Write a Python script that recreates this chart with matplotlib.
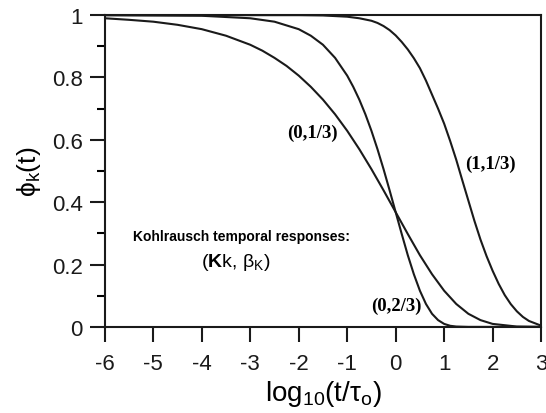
import numpy as np
import matplotlib
matplotlib.use('Agg')
import matplotlib.pyplot as plt

plt.rcParams['font.family'] = ['Liberation Sans', 'DejaVu Sans']
plt.rcParams['mathtext.fontset'] = 'custom'
plt.rcParams['mathtext.rm'] = 'Liberation Sans'
plt.rcParams['mathtext.it'] = 'Liberation Sans:italic'
plt.rcParams['mathtext.bf'] = 'Liberation Sans:bold'
plt.rcParams['axes.unicode_minus'] = False

# Kohlrausch responses: (K, beta) labels
x_a = [-6, -5.5, -5, -4.5, -4, -3.5, -3, -2.75, -2.5, -2.25, -2, -1.75, -1.5, -1.25, -1,
       -0.75, -0.5, -0.25, 0, 0.25, 0.5, 0.75, 1, 1.25, 1.5, 1.75, 2, 2.5, 3]
phi_a = [0.990, 0.985, 0.979, 0.969, 0.955, 0.934, 0.905, 0.886, 0.863, 0.837, 0.806, 0.770,
         0.729, 0.682, 0.629, 0.570, 0.506, 0.438, 0.368, 0.298, 0.230, 0.169, 0.116, 0.0735,
         0.042, 0.0217, 0.0096, 0.0011, 0.0]

x_b = [-6, -4, -3, -2.5, -2, -1.75, -1.5, -1.25, -1, -0.875, -0.75, -0.625, -0.5, -0.375,
       -0.25, -0.125, 0, 0.125, 0.25, 0.375, 0.5, 0.625, 0.75, 0.875, 1, 1.125, 1.25, 1.5, 3]
phi_b = [1.0, 0.998, 0.990, 0.979, 0.955, 0.934, 0.905, 0.863, 0.806, 0.770, 0.729, 0.682,
         0.629, 0.570, 0.506, 0.438, 0.368, 0.298, 0.230, 0.169, 0.116, 0.0735, 0.042, 0.0217,
         0.0096, 0.0035, 0.0011, 0.0, 0.0]

x_c = [-6, -2, -1.5, -1, -0.75, -0.5, -0.375, -0.25, -0.125, 0, 0.125, 0.25, 0.375, 0.5,
       0.625, 0.75, 0.875, 1, 1.125, 1.25, 1.375, 1.5, 1.625, 1.75, 1.875, 2, 2.125, 2.25,
       2.375, 2.5, 2.625, 2.75, 3]
phi_c = [1.0, 1.0, 0.999, 0.995, 0.990, 0.982, 0.975, 0.965, 0.952, 0.935, 0.914, 0.890,
         0.862, 0.830, 0.790, 0.745, 0.700, 0.652, 0.596, 0.536, 0.470, 0.405, 0.340, 0.280,
         0.227, 0.180, 0.138, 0.102, 0.073, 0.050, 0.032, 0.019, 0.004]

fig = plt.figure(figsize=(5.46, 4.14), dpi=100)
ax = fig.add_axes([0.192, 0.208, 0.799, 0.753])

for xs, ys in [(x_a, phi_a), (x_b, phi_b), (x_c, phi_c)]:
    ax.plot(xs, ys, color='#1a1a1a', lw=1.5, solid_joinstyle='round')

ax.set_xlim(-6, 3)
ax.set_ylim(0, 1)
ax.set_xticks(range(-6, 4))
ax.set_yticks([0, 0.2, 0.4, 0.6, 0.8, 1])
ax.set_yticklabels(['0', '0.2', '0.4', '0.6', '0.8', '1'])
ax.set_yticks([0.1, 0.3, 0.5, 0.7, 0.9], minor=True)
ax.tick_params(which='major', direction='out', length=11, width=1.5, labelsize=16, colors='#1a1a1a')
ax.tick_params(axis='x', which='major', pad=8)
ax.tick_params(axis='y', which='major', pad=5)
ax.tick_params(which='minor', direction='out', length=6, width=1.5)
for s in ax.spines.values():
    s.set_linewidth(1.5)
    s.set_color('#1a1a1a')

ax.set_ylabel(r'$\mathrm{\phi}_{\mathrm{k}}$(t)', fontsize=19, labelpad=6)
ax.set_xlabel(r'log$_{10}$(t/$\mathrm{\tau}_{\mathrm{o}}$)', fontsize=20, labelpad=3)

serif_bold = dict(fontsize=13.5, fontweight='bold', family='Liberation Serif', ha='center', va='center')
ax.text(-1.72, 0.625, '(0,1/3)', **serif_bold)
ax.text(1.95, 0.526, '(1,1/3)', **serif_bold)
ax.text(0.01, 0.07, '(0,2/3)', **serif_bold)
ax.text(-5.42, 0.29, 'Kohlrausch temporal responses:', fontsize=10, fontweight='bold', ha='left', va='center')
ax.text(-3.3, 0.21, r'($\mathbf{K}$k, $\mathrm{\beta}_{\mathrm{K}}$)', fontsize=14, ha='center', va='center')

fig.savefig('out.png', dpi=100)
